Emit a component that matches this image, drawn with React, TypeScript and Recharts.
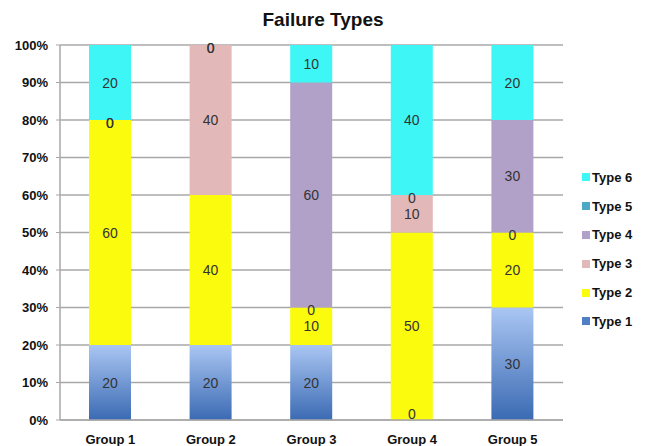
import React from 'react';
import { BarChart, Bar, XAxis, YAxis, CartesianGrid, LabelList } from 'recharts';

const GROUPS = ['Group 1', 'Group 2', 'Group 3', 'Group 4', 'Group 5'];
const TYPE_1 = [20, 20, 20, 0, 30];
const TYPE_2 = [60, 40, 10, 50, 20];
const TYPE_3 = [0, 40, 0, 10, 0];
const TYPE_4 = [0, 0, 60, 0, 30];
const TYPE_5: (number | null)[] = [null, null, null, null, null];
const TYPE_6 = [20, 0, 10, 40, 20];
const Y_TICKS = [0, 10, 20, 30, 40, 50, 60, 70, 80, 90, 100];

const SERIES = [
  { key: 'type1', name: 'Type 1', values: TYPE_1, fill: 'url(#type1Grad)', swatch: '#4f7fc4' },
  { key: 'type2', name: 'Type 2', values: TYPE_2, fill: '#fbfb0e', swatch: '#fbfb0e' },
  { key: 'type3', name: 'Type 3', values: TYPE_3, fill: '#e2b9b8', swatch: '#e2b9b8' },
  { key: 'type4', name: 'Type 4', values: TYPE_4, fill: '#b1a1c9', swatch: '#b1a1c9' },
  { key: 'type5', name: 'Type 5', values: TYPE_5, fill: '#4ba9c6', swatch: '#4ba9c6' },
  { key: 'type6', name: 'Type 6', values: TYPE_6, fill: '#3ef6f6', swatch: '#3ef6f6' },
];

const data = GROUPS.map((g, i) => {
  const row: Record<string, string | number | null> = { name: g };
  SERIES.forEach(s => { row[s.key] = s.values[i]; });
  return row;
});

const FONT = 'Liberation Sans, Arial, Helvetica, sans-serif';

// draws the value in the middle of each segment, zero-height segments included
const SegmentLabel = (props: any) => {
  const { x, y, width, height, value } = props;
  if (value === null || value === undefined) return null;
  const cx = Number(x) + Number(width) / 2;
  let cy = Number(y) + Number(height) / 2;
  const isZero = Number(value) === 0;
  if (isZero) cy += 3;
  if (cy > 414) cy = 414;
  return (
    <text x={cx} y={cy} textAnchor="middle" dominantBaseline="central" fill="#333" fontSize={14} fontFamily={FONT}>
      {isZero ? '0' : String(value)}
    </text>
  );
};

export default function App() {
  return (
    <div style={{ position: 'absolute', left: 0, top: 0, width: 646, height: 446, background: '#fff', fontFamily: FONT }}>
      <div style={{ position: 'absolute', left: 0, width: 646, top: 9, textAlign: 'center', fontSize: 19, fontWeight: 700, color: '#111' }}>
        Failure Types
      </div>
      <BarChart width={646} height={446} data={data} margin={{ top: 45, right: 83, left: 0, bottom: 0 }}>
        <defs>
          <linearGradient id="type1Grad" x1="0" y1="0" x2="0" y2="1">
            <stop offset="0%" stopColor="#aac6f3" />
            <stop offset="100%" stopColor="#3b6ab3" />
          </linearGradient>
        </defs>
        <CartesianGrid vertical={false} stroke="#a8a8a8" strokeWidth={1.5} />
        <XAxis
          dataKey="name"
          height={26}
          tickLine={false}
          axisLine={{ stroke: '#a8a8a8', strokeWidth: 1.5 }}
          tick={{ fontSize: 13, fontWeight: 700, fill: '#111', fontFamily: FONT }}
          tickMargin={9}
        />
        <YAxis
          width={60}
          domain={[0, 100]}
          ticks={Y_TICKS}
          tickFormatter={(v: number) => `${v}%`}
          tickSize={4}
          tickMargin={8}
          tickLine={{ stroke: '#a8a8a8' }}
          axisLine={{ stroke: '#a8a8a8', strokeWidth: 1.5 }}
          tick={{ fontSize: 13, fontWeight: 700, fill: '#111', fontFamily: FONT }}
        />
        {SERIES.map(s => (
          <Bar key={s.key} dataKey={s.key} name={s.name} stackId="a" fill={s.fill} barSize={42} minPointSize={0.01} isAnimationActive={false}>
            <LabelList dataKey={s.key} content={SegmentLabel} />
          </Bar>
        ))}
      </BarChart>
      <div style={{ position: 'absolute', left: 582, top: 163 }}>
        {[...SERIES].reverse().map(s => (
          <div key={s.key} style={{ display: 'flex', alignItems: 'center', height: 28.8 }}>
            <span style={{ display: 'inline-block', width: 8, height: 8, background: s.swatch, marginRight: 2 }} />
            <span style={{ fontSize: 13, fontWeight: 700, color: '#111' }}>{s.name}</span>
          </div>
        ))}
      </div>
    </div>
  );
}
